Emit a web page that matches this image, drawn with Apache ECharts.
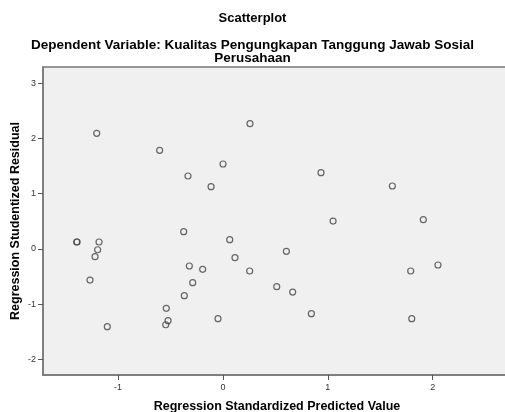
<!DOCTYPE html>
<html>
<head>
<meta charset="utf-8">
<script src="https://cdn.jsdelivr.net/npm/echarts@6/dist/echarts.min.js"></script>
<style>html,body{margin:0;padding:0;background:#fff}#c{width:505px;height:412px}</style>
</head>
<body>
<div id="c"></div>
<script>
const predicted = [-1.394,-1.390,-1.181,-1.194,-1.219,-1.267,-1.102,-1.203,
  -0.603,-0.333,-0.113,0.001,0.258,-0.374,0.065,0.115,-0.320,-0.193,0.255,-0.288,-0.368,-0.540,-0.523,-0.545,-0.047,
  0.935,1.615,1.050,1.910,0.605,0.513,0.665,0.843,1.790,2.050,1.800];
const residual = [0.127,0.127,0.127,-0.013,-0.139,-0.561,-1.405,2.092,
  1.785,1.320,1.127,1.537,2.266,0.313,0.168,-0.157,-0.307,-0.367,-0.398,-0.609,-0.844,-1.073,-1.296,-1.369,-1.260,
  1.380,1.139,0.506,0.530,-0.042,-0.681,-0.778,-1.170,-0.398,-0.289,-1.260];
const xTicks = [-1,0,1,2];
const yTicks = [-2,-1,0,1,2,3];
const titleText = 'Scatterplot';
const subtitleText = 'Dependent Variable: Kualitas Pengungkapan Tanggung Jawab Sosial\nPerusahaan';
const xName = 'Regression Standardized Predicted Value';
const yName = 'Regression Studentized Residual';

const font = 'Liberation Sans, Arial, sans-serif';
const chart = echarts.init(document.getElementById('c'), null, {renderer:'canvas'});
chart.setOption({
  animation:false,
  backgroundColor:'#fff',
  title:[
    {text:titleText,left:'center',top:7,textStyle:{fontFamily:font,fontSize:13,fontWeight:'bold',color:'#000'}},
    {text:subtitleText,left:'center',top:34,textStyle:{fontFamily:font,fontSize:13.5,fontWeight:'bold',color:'#000',lineHeight:13}}
  ],
  grid:{left:43,right:-6,top:67,bottom:37,show:true,backgroundColor:'#f0f0f0',borderColor:'#777',borderWidth:1.5,containLabel:false,outerBoundsMode:'none'},
  xAxis:{type:'value',min:-1.715,max:2.746,
    name:xName,nameLocation:'middle',nameGap:25,nameMoveOverlap:false,
    nameTextStyle:{fontFamily:font,fontSize:12.5,fontWeight:'bold',color:'#000'},
    axisLine:{show:true,onZero:false,lineStyle:{color:'#777',width:1.5}},
    axisTick:{show:true,length:5,customValues:xTicks,lineStyle:{color:'#555'}},
    axisLabel:{customValues:xTicks,fontFamily:font,fontSize:9,color:'#333',margin:8},
    splitLine:{show:false}},
  yAxis:{type:'value',min:-2.278,max:3.291,
    name:yName,nameLocation:'middle',nameGap:21,nameMoveOverlap:false,
    nameTextStyle:{fontFamily:font,fontSize:12.5,fontWeight:'bold',color:'#000'},
    axisLine:{show:true,onZero:false,lineStyle:{color:'#777',width:1.5}},
    axisTick:{show:true,length:5,customValues:yTicks,lineStyle:{color:'#555'}},
    axisLabel:{customValues:yTicks,fontFamily:font,fontSize:9,color:'#333',margin:7},
    splitLine:{show:false}},
  series:[{type:'scatter',symbol:'circle',symbolSize:6,
    data:predicted.map((x,i)=>[x,residual[i]]),
    itemStyle:{color:'rgba(0,0,0,0)',borderColor:'#444',borderWidth:1.2}}]
});
</script>
</body>
</html>
